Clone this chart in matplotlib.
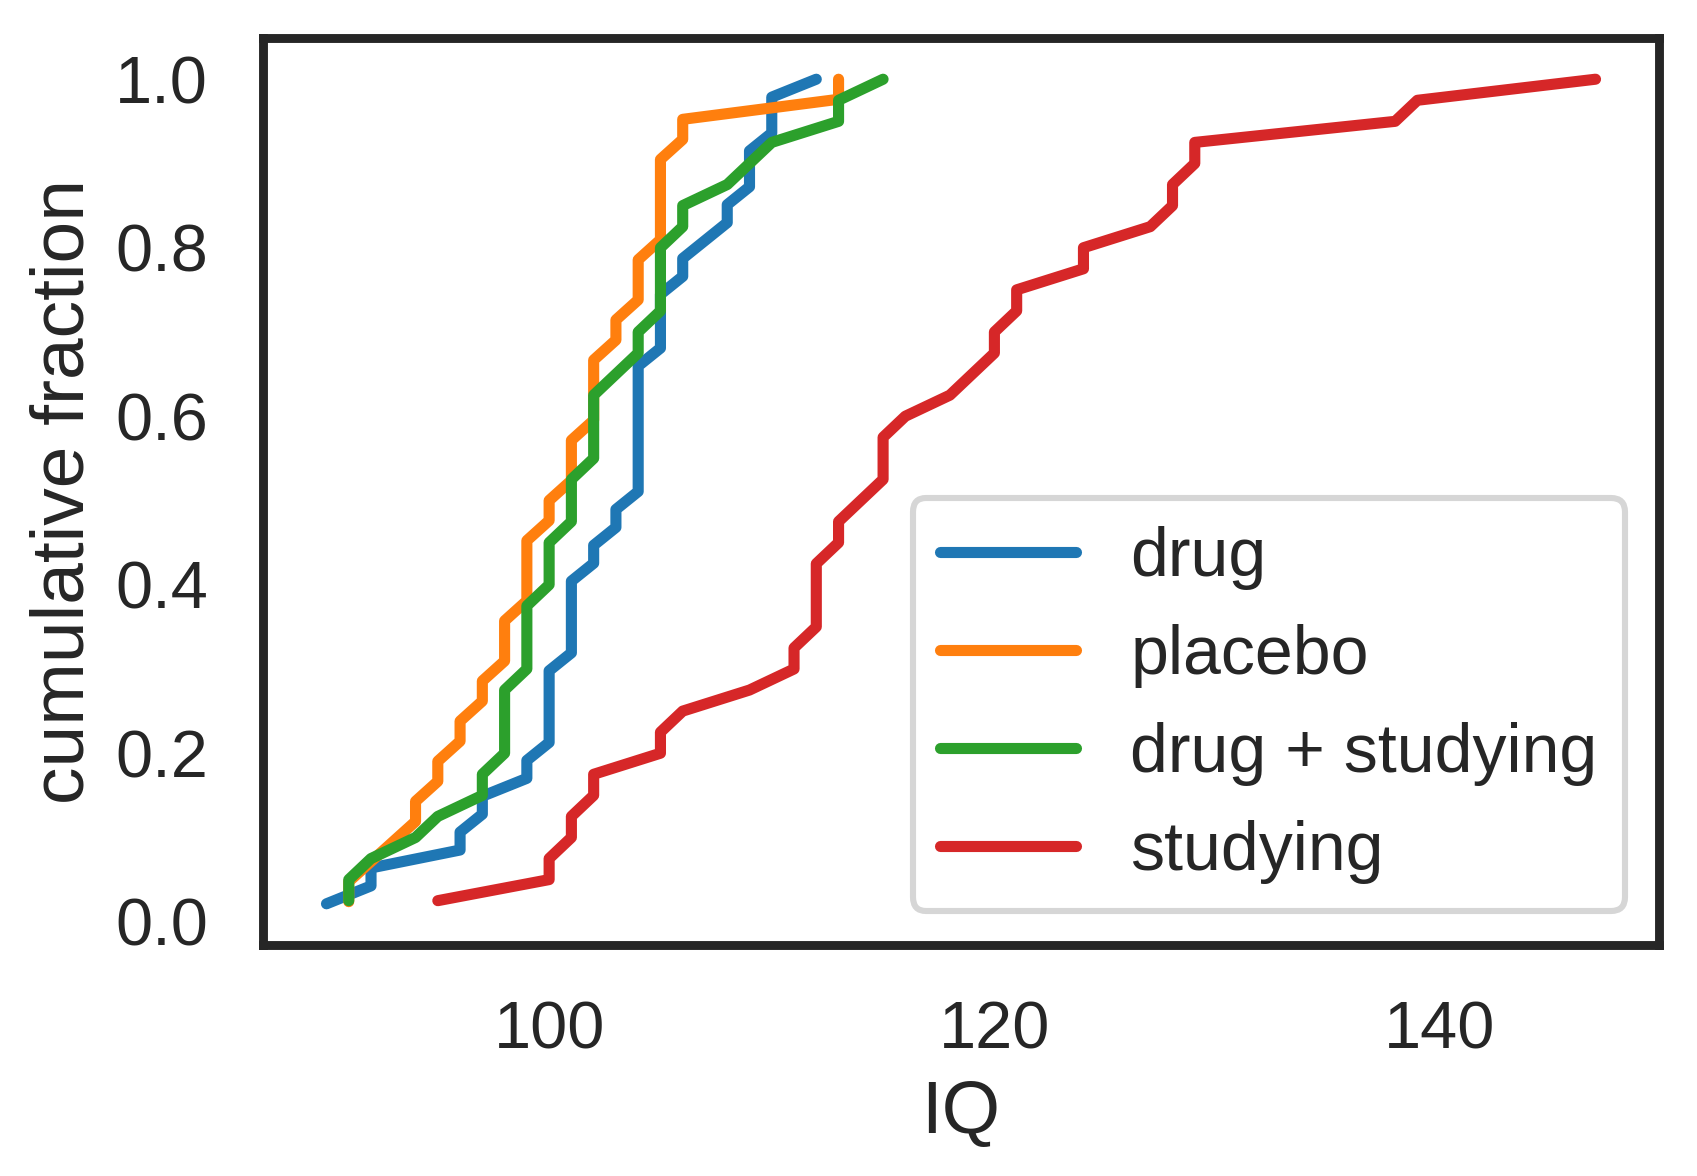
import numpy as np
import seaborn as sns
import matplotlib
matplotlib.use("Agg")
import matplotlib.pyplot as plt

# IQ scores per group
drug = [90, 92, 92, 96, 96, 97, 97, 99, 99,
        100, 100, 100, 100, 100, 101, 101, 101, 101, 101,
        102, 102, 103, 103, 104, 104, 104, 104, 104, 104, 104, 104,
        105, 105, 105, 105, 106, 106, 107, 108, 108,
        109, 109, 109, 110, 110, 110, 112]
placebo = [91, 91, 92, 93, 94, 94, 95, 95, 96, 96, 97, 97, 98, 98, 98,
           99, 99, 99, 99, 100, 100, 101, 101, 101, 102, 102, 102, 102,
           103, 103, 104, 104, 104, 105, 105, 105, 105, 105, 106, 106,
           113, 113]
drug_studying = [91, 91, 92, 94, 95, 97, 97, 98, 98, 98, 98,
                 99, 99, 99, 99, 100, 100, 100, 101, 101, 101,
                 102, 102, 102, 102, 103, 104, 104, 105, 105, 105, 105,
                 106, 106, 108, 109, 110, 113, 113, 115]
studying = [95, 100, 100, 101, 101, 102, 102, 105, 105, 106, 109, 111, 111,
            112, 112, 112, 112, 113, 113, 114, 115, 115, 115, 116, 118, 119,
            120, 120, 121, 121, 124, 124, 127, 128, 128, 129, 129, 138, 139,
            147]

groups = ['drug', 'placebo', 'drug + studying', 'studying']
values = [drug, placebo, drug_studying, studying]
colors = ['#1f77b4', '#ff7f0e', '#2ca02c', '#d62728']

sns.set_theme(style='white', context='poster')
plt.rcParams['font.family'] = ['Liberation Sans', 'DejaVu Sans']
plt.rcParams['xtick.labelsize'] = 24
plt.rcParams['ytick.labelsize'] = 24
plt.rcParams['xtick.major.pad'] = 7.8
plt.rcParams['ytick.major.pad'] = 7.8
plt.rcParams['axes.labelsize'] = 27
plt.rcParams['legend.fontsize'] = 24.5
plt.rcParams['axes.linewidth'] = 3.2
plt.rcParams['patch.linewidth'] = 2.2

fig = plt.figure(figsize=(8.485, 5.88), dpi=200)
ax = fig.add_axes([0.155, 0.1964, 0.8226, 0.7713])

for name, v, c in zip(groups, values, colors):
    x = np.sort(v)
    y = np.arange(1, len(x) + 1) / len(x)
    ax.plot(x, y, label=name, color=c, lw=4.0, solid_capstyle='round')

ax.set_xlabel('IQ', labelpad=6)
ax.set_ylabel('cumulative fraction', labelpad=6)
ax.set_xticks([100, 120, 140])
ax.set_yticks([0.0, 0.2, 0.4, 0.6, 0.8, 1.0])
ax.legend(loc='lower right')

fig.savefig('out.png', dpi=200)
